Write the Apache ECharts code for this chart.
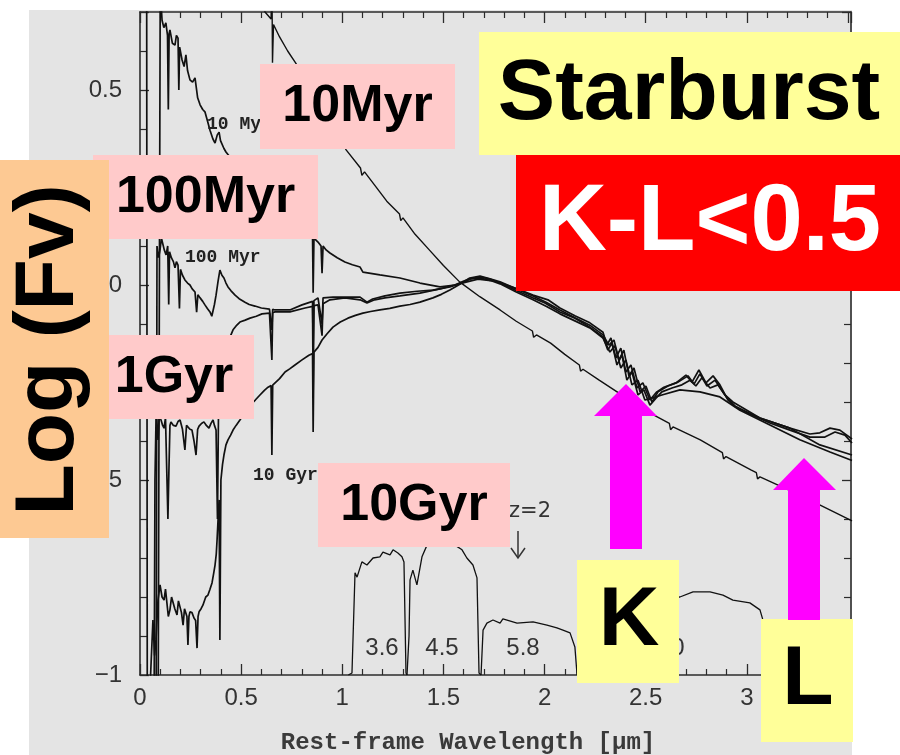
<!DOCTYPE html>
<html><head><meta charset="utf-8">
<script src="https://cdn.jsdelivr.net/npm/echarts@6/dist/echarts.min.js"></script>
<style>html,body{margin:0;padding:0;background:#fff}#c{width:900px;height:755px}</style>
</head><body><div id="c"></div>
<script>
// ---- data: [rest-frame wavelength (um), log Fv] ----
const curveSmooth = [[0.58,0.78],[0.618,0.70],[0.648,0.682],[0.652,0.80],[0.655,0.57],[0.66,0.668],[0.69,0.636],[0.73,0.60],[0.77,0.569],[0.83,0.515],[0.89,0.462],[0.96,0.40],[1.02,0.346],[1.09,0.30],[1.097,0.281],[1.11,0.29],[1.16,0.256],[1.22,0.215],[1.283,0.182],[1.289,0.165],[1.30,0.172],[1.36,0.13],[1.43,0.090],[1.50,0.05],[1.58,0.008],[1.68,-0.03],[1.78,-0.064],[1.86,-0.093],[1.940,-0.118],[1.946,-0.134],[1.96,-0.128],[2.03,-0.149],[2.10,-0.178],[2.172,-0.205],[2.178,-0.221],[2.19,-0.216],[2.27,-0.244],[2.40,-0.288],[2.52,-0.328],[2.617,-0.355],[2.623,-0.371],[2.635,-0.364],[2.77,-0.397],[2.879,-0.430],[2.885,-0.446],[2.897,-0.440],[3.02,-0.474],[3.047,-0.481],[3.053,-0.497],[3.065,-0.492],[3.26,-0.538],[3.52,-0.605]];

const curve10Myr = [[0.090,-1.05],[0.100,0.76],[0.109,0.679],[0.118,0.66],[0.128,0.672],[0.136,0.64],[0.140,0.45],[0.144,0.645],[0.148,0.654],[0.160,0.62],[0.173,0.615],[0.180,0.64],[0.188,0.633],[0.192,0.50],[0.196,0.61],[0.208,0.577],[0.218,0.56],[0.227,0.590],[0.235,0.55],[0.247,0.526],[0.260,0.52],[0.272,0.531],[0.285,0.48],[0.297,0.462],[0.310,0.45],[0.321,0.444],[0.334,0.42],[0.346,0.397],[0.360,0.375],[0.371,0.364],[0.382,0.385],[0.391,0.392],[0.398,0.37],[0.405,0.372],[0.415,0.35],[0.425,0.341],[0.48,0.305],[0.544,0.274],[0.62,0.235],[0.692,0.197],[0.75,0.168],[0.791,0.146],[0.83,0.13],[0.853,0.125],[0.856,-0.02],[0.86,0.12],[0.88,0.110],[0.895,0.10],[0.90,0.03],[0.905,0.10],[0.92,0.09],[0.939,0.082],[0.975,0.07],[1.013,0.059],[1.05,0.052],[1.088,0.046],[1.102,0.033],[1.14,0.03],[1.186,0.026],[1.285,0.018],[1.384,0.005],[1.483,-0.005],[1.557,0.000],[1.592,0.008],[1.630,0.016],[1.681,0.018],[1.730,0.012],[1.780,0.003],[1.860,-0.018],[1.943,-0.038],[2.010,-0.055],[2.076,-0.074],[2.150,-0.092],[2.224,-0.110],[2.289,-0.136],[2.323,-0.172],[2.348,-0.156],[2.377,-0.213],[2.402,-0.192],[2.432,-0.256],[2.462,-0.244],[2.496,-0.295],[2.531,-0.290],[2.580,-0.282],[2.669,-0.269],[2.768,-0.274],[2.867,-0.287],[2.966,-0.321],[3.114,-0.359],[3.262,-0.397],[3.411,-0.428],[3.52,-0.450]];

const curve100Myr = [[0.080,-1.05],[0.084,0.10],[0.092,0.07],[0.099,0.090],[0.106,0.12],[0.114,0.115],[0.120,0.09],[0.129,0.077],[0.137,0.10],[0.142,-0.05],[0.146,0.085],[0.155,0.07],[0.165,0.06],[0.173,0.044],[0.180,0.060],[0.188,0.051],[0.195,-0.06],[0.200,0.04],[0.210,0.025],[0.222,0.013],[0.235,0.005],[0.247,0.000],[0.258,-0.01],[0.272,-0.018],[0.280,-0.07],[0.286,-0.025],[0.297,-0.033],[0.310,-0.042],[0.321,-0.051],[0.333,-0.06],[0.346,-0.069],[0.355,-0.08],[0.361,-0.085],[0.368,-0.05],[0.376,-0.026],[0.386,0.01],[0.395,0.038],[0.405,0.025],[0.415,0.018],[0.425,0.005],[0.435,-0.005],[0.450,-0.015],[0.470,-0.026],[0.490,-0.035],[0.519,-0.044],[0.540,-0.050],[0.568,-0.054],[0.600,-0.059],[0.640,-0.062],[0.652,-0.115],[0.656,-0.062],[0.667,-0.064],[0.741,-0.064],[0.801,-0.051],[0.853,-0.042],[0.856,-0.16],[0.86,-0.04],[0.880,-0.033],[0.900,-0.10],[0.905,-0.033],[0.954,-0.031],[1.038,-0.031],[1.088,-0.031],[1.122,-0.044],[1.150,-0.036],[1.211,-0.028],[1.285,-0.021],[1.37,-0.016],[1.448,-0.013],[1.532,-0.005],[1.592,0.005],[1.630,0.018],[1.681,0.023],[1.730,0.016],[1.780,0.008],[1.860,-0.010],[1.943,-0.028],[2.010,-0.045],[2.076,-0.064],[2.150,-0.084],[2.224,-0.103],[2.289,-0.128],[2.318,-0.154],[2.343,-0.141],[2.368,-0.192],[2.392,-0.167],[2.417,-0.233],[2.442,-0.213],[2.472,-0.274],[2.501,-0.259],[2.531,-0.300],[2.561,-0.274],[2.610,-0.259],[2.660,-0.249],[2.709,-0.233],[2.739,-0.254],[2.768,-0.228],[2.803,-0.259],[2.843,-0.244],[2.892,-0.282],[2.931,-0.300],[3.065,-0.341],[3.213,-0.367],[3.361,-0.410],[3.52,-0.436]];

const curve1Gyr = [[0.070,-1.05],[0.074,-0.50],[0.080,-0.32],[0.089,-0.397],[0.096,-0.33],[0.104,-0.346],[0.112,-0.36],[0.119,-0.367],[0.126,-0.34],[0.133,-0.341],[0.138,-0.60],[0.143,-0.474],[0.148,-0.36],[0.153,-0.351],[0.165,-0.36],[0.178,-0.362],[0.188,-0.35],[0.198,-0.346],[0.210,-0.37],[0.222,-0.423],[0.230,-0.36],[0.237,-0.359],[0.247,-0.37],[0.257,-0.372],[0.267,-0.40],[0.277,-0.436],[0.285,-0.37],[0.292,-0.362],[0.304,-0.355],[0.316,-0.351],[0.328,-0.36],[0.341,-0.367],[0.351,-0.355],[0.361,-0.346],[0.368,-0.36],[0.376,-0.372],[0.383,-0.60],[0.388,-0.33],[0.395,-0.295],[0.405,-0.25],[0.415,-0.218],[0.425,-0.18],[0.435,-0.154],[0.448,-0.13],[0.460,-0.115],[0.475,-0.105],[0.494,-0.095],[0.520,-0.09],[0.544,-0.085],[0.575,-0.08],[0.603,-0.074],[0.640,-0.072],[0.652,-0.192],[0.656,-0.071],[0.667,-0.069],[0.741,-0.069],[0.816,-0.059],[0.853,-0.055],[0.856,-0.28],[0.86,-0.053],[0.880,-0.051],[0.900,-0.13],[0.905,-0.048],[0.939,-0.038],[1.013,-0.033],[1.088,-0.038],[1.122,-0.046],[1.160,-0.038],[1.211,-0.033],[1.285,-0.028],[1.384,-0.021],[1.483,-0.010],[1.592,0.005],[1.631,0.015],[1.681,0.021],[1.730,0.015],[1.780,0.005],[1.854,-0.013],[1.943,-0.033],[2.002,-0.046],[2.076,-0.069],[2.150,-0.085],[2.224,-0.108],[2.289,-0.133],[2.313,-0.167],[2.333,-0.149],[2.358,-0.205],[2.383,-0.179],[2.407,-0.244],[2.432,-0.223],[2.462,-0.282],[2.491,-0.269],[2.521,-0.308],[2.551,-0.290],[2.580,-0.274],[2.630,-0.264],[2.679,-0.256],[2.719,-0.244],[2.748,-0.259],[2.778,-0.238],[2.818,-0.264],[2.857,-0.256],[2.902,-0.290],[2.941,-0.310],[3.015,-0.331],[3.114,-0.354],[3.213,-0.372],[3.312,-0.390],[3.386,-0.390],[3.436,-0.377],[3.485,-0.385],[3.52,-0.405]];

const curve10Gyr = [[0.033,0.76],[0.036,-1.05],[0.049,-1.04],[0.064,-0.859],[0.072,-0.95],[0.079,-0.910],[0.089,-0.808],[0.099,-0.769],[0.109,-0.80],[0.119,-0.808],[0.126,-0.78],[0.133,-0.782],[0.140,-0.85],[0.148,-0.833],[0.156,-0.80],[0.163,-0.803],[0.172,-0.83],[0.183,-0.846],[0.190,-0.81],[0.198,-0.808],[0.205,-0.84],[0.213,-0.872],[0.220,-0.83],[0.227,-0.833],[0.232,-0.85],[0.237,-0.923],[0.242,-0.85],[0.247,-0.838],[0.257,-0.84],[0.267,-0.854],[0.275,-0.86],[0.282,-0.931],[0.287,-0.85],[0.292,-0.838],[0.302,-0.83],[0.311,-0.821],[0.325,-0.80],[0.336,-0.795],[0.346,-0.78],[0.356,-0.764],[0.364,-0.74],[0.371,-0.718],[0.377,-0.69],[0.381,-0.654],[0.386,-0.60],[0.391,-0.551],[0.395,-0.910],[0.400,-0.500],[0.408,-0.46],[0.415,-0.436],[0.425,-0.41],[0.435,-0.397],[0.448,-0.385],[0.460,-0.372],[0.475,-0.36],[0.494,-0.346],[0.520,-0.325],[0.544,-0.308],[0.570,-0.295],[0.593,-0.282],[0.615,-0.27],[0.633,-0.262],[0.648,-0.258],[0.652,-0.436],[0.656,-0.257],[0.662,-0.256],[0.690,-0.24],[0.717,-0.223],[0.740,-0.215],[0.766,-0.205],[0.801,-0.192],[0.835,-0.18],[0.853,-0.176],[0.856,-0.377],[0.860,-0.172],[0.880,-0.16],[0.900,-0.141],[0.925,-0.125],[0.954,-0.108],[0.990,-0.095],[1.028,-0.085],[1.065,-0.078],[1.102,-0.072],[1.140,-0.068],[1.186,-0.064],[1.235,-0.06],[1.285,-0.054],[1.335,-0.05],[1.384,-0.044],[1.448,-0.033],[1.490,-0.024],[1.532,-0.013],[1.592,0.005],[1.671,0.015],[1.755,0.010],[1.854,-0.008],[1.943,-0.026],[2.017,-0.038],[2.076,-0.059],[2.150,-0.079],[2.224,-0.097],[2.289,-0.121],[2.308,-0.154],[2.328,-0.136],[2.353,-0.187],[2.377,-0.162],[2.402,-0.223],[2.427,-0.205],[2.457,-0.264],[2.486,-0.251],[2.521,-0.295],[2.555,-0.274],[2.590,-0.262],[2.650,-0.251],[2.699,-0.231],[2.729,-0.249],[2.763,-0.218],[2.798,-0.251],[2.833,-0.233],[2.867,-0.256],[2.907,-0.295],[2.946,-0.313],[3.065,-0.341],[3.213,-0.367],[3.312,-0.382],[3.361,-0.379],[3.411,-0.367],[3.460,-0.372],[3.52,-0.395]];

// IRAC filter curves shifted to z=2 rest frame
const filter36 = [[1.030,-1.0],[1.048,-0.995],[1.063,-0.738],[1.073,-0.749],[1.097,-0.710],[1.122,-0.718],[1.152,-0.700],[1.186,-0.697],[1.201,-0.685],[1.236,-0.692],[1.251,-0.679],[1.275,-0.687],[1.295,-0.697],[1.305,-0.710],[1.315,-0.995],[1.320,-1.0]];
const filter45 = [[1.320,-1.0],[1.330,-0.90],[1.335,-0.756],[1.349,-0.731],[1.369,-0.769],[1.394,-0.697],[1.419,-0.667],[1.458,-0.649],[1.508,-0.654],[1.557,-0.667],[1.592,-0.679],[1.616,-0.700],[1.646,-0.718],[1.666,-0.751],[1.676,-0.995],[1.686,-1.0]];
const filter58 = [[1.686,-1.0],[1.696,-0.885],[1.715,-0.867],[1.745,-0.859],[1.780,-0.867],[1.794,-0.856],[1.864,-0.867],[1.943,-0.864],[2.012,-0.872],[2.061,-0.879],[2.091,-0.885],[2.126,-0.892],[2.150,-0.928],[2.160,-0.995],[2.165,-1.0]];
const filter80 = [[2.160,-1.0],[2.175,-0.910],[2.200,-0.846],[2.274,-0.821],[2.472,-0.808],[2.669,-0.800],[2.734,-0.787],[2.818,-0.787],[2.882,-0.795],[2.931,-0.808],[3.015,-0.815],[3.065,-0.833],[3.094,-0.885],[3.114,-0.995],[3.139,-1.0]];

const xTickLabels = [0, 0.5, 1, 1.5, 2, 2.5, 3];
const yTickLabels = [-1, -0.5, 0, 0.5];

// ---- chart ----
const chart = echarts.init(document.getElementById('c'), null, {renderer: 'canvas'});
const axisColor = '#2b2b2b';
const isTick = (list, v) => list.some(t => Math.abs(t - v) < 1e-6);
const fmt = v => String(v).replace('-', '\u2212');

function xAx(pos, showLabel) {
  return {
    type: 'value', position: pos, min: 0, max: 3.515, interval: 0.5,
    axisLine: {show: true, onZero: false, lineStyle: {color: axisColor, width: 1.6}},
    axisTick: {show: true, inside: true, length: 11, lineStyle: {color: axisColor, width: 1.3}},
    minorTick: {show: true, splitNumber: 5, length: 6, lineStyle: {color: axisColor, width: 1.2}},
    splitLine: {show: false},
    axisLabel: {show: showLabel, margin: 11, color: '#333', fontFamily: 'Liberation Sans', fontSize: 24,
      formatter: v => isTick(xTickLabels, v) ? fmt(v) : ''}
  };
}
function yAx(pos, showLabel) {
  return {
    type: 'value', position: pos, min: -1, max: 0.7, interval: 0.5,
    axisLine: {show: true, onZero: false, lineStyle: {color: axisColor, width: 1.6}},
    axisTick: {show: true, inside: true, length: 9, lineStyle: {color: axisColor, width: 1.3}},
    minorTick: {show: true, splitNumber: 5, length: 7, lineStyle: {color: axisColor, width: 1.2}},
    splitLine: {show: false},
    axisLabel: {show: showLabel, margin: 18, color: '#333', fontFamily: 'Liberation Sans', fontSize: 24,
      formatter: v => isTick(yTickLabels, v) ? fmt(v) : ''}
  };
}
function spec(data, w) {
  return {type: 'line', data: data, showSymbol: false, symbol: 'none', clip: true, animation: false,
    lineStyle: {color: '#111', width: w}, z: 3};
}

function box(x, y, w, h, fill, text, font, color, tx, ty, extra) {
  const els = [{type: 'rect', z: 100, shape: {x: x, y: y, width: w, height: h}, style: {fill: fill}}];
  if (text) {
    els.push(Object.assign({type: 'text', z: 101, x: tx, y: ty,
      style: {text: text, font: font, fill: color, textAlign: 'center', textVerticalAlign: 'middle', verticalAlign: 'middle'}}, extra || {}));
  }
  return els;
}
const small = (t, x, y, align) => ({type: 'text', z: 50, x: x, y: y,
  style: {text: t, font: 'bold 18px "Liberation Mono", monospace', fill: '#222', textAlign: align || 'left', textVerticalAlign: 'middle', verticalAlign: 'middle'}});
const flab = (t, x, y) => ({type: 'text', z: 50, x: x, y: y,
  style: {text: t, font: '24px "Liberation Sans", sans-serif', fill: '#333', textAlign: 'center', textVerticalAlign: 'middle', verticalAlign: 'middle'}});
const BOLD = 'bold {s}px "Liberation Sans", Arial, sans-serif';
const bf = s => BOLD.replace('{s}', s);

const graphics = [].concat(
  [{type: 'rect', z: -100, shape: {x: 29, y: 10, width: 823, height: 745}, style: {fill: '#e4e4e4'}}],
  [small('10 Myr', 207, 124), small('100 Myr', 185, 257), small('10 Gyr', 253, 475),
   {type: 'text', z: 50, x: 551, y: 512, style: {text: 'z=2', font: '21px "DejaVu Sans", sans-serif', fill: '#333', textAlign: 'right', textVerticalAlign: 'middle', verticalAlign: 'middle'}},
   {type: 'polyline', z: 50, shape: {points: [[518, 531], [518, 558]]}, style: {stroke: '#333', lineWidth: 1.5}},
   {type: 'polyline', z: 50, shape: {points: [[511, 548], [518, 558], [525, 548]]}, style: {stroke: '#333', lineWidth: 1.5, fill: null}},
   {type: 'text', z: 50, x: 468, y: 743, style: {text: 'Rest-frame Wavelength [\u03bcm]', font: 'bold 24px "Liberation Mono", monospace', fill: '#3a3a3a', textAlign: 'center', textVerticalAlign: 'middle', verticalAlign: 'middle'}},
   flab('3.6', 382, 648), flab('4.5', 442, 648), flab('5.8', 523, 648), flab('8.0', 668, 648)],
  box(260, 64, 195, 85, '#ffcaca', '10Myr', bf(52), '#000', 357.5, 107),
  box(93, 155, 225, 84, '#ffcaca', '100Myr', bf(52), '#000', 205.5, 198),
  box(93, 335, 161, 84, '#ffcaca', '1Gyr', bf(52), '#000', 174, 378),
  box(318, 463, 192, 84, '#ffcaca', '10Gyr', bf(52), '#000', 414, 506),
  box(0, 160, 109, 378, '#fdc993', 'Log (Fv)', bf(84), '#000', 50, 350,
      {rotation: Math.PI / 2, style: {text: 'Log (Fv)', font: bf(84), fill: '#000', textAlign: 'center', textVerticalAlign: 'middle', verticalAlign: 'middle', shadowBlur: 6, shadowColor: 'rgba(0,0,0,0.45)', shadowOffsetX: 0, shadowOffsetY: -3}}),
  box(479, 32, 421, 123, '#ffff99', 'Starburst', bf(86), '#000', 689, 95),
  box(516, 155, 384, 136, '#ff0000', 'K-L<0.5', bf(94), '#fff', 710, 224),
  box(577, 560, 102, 123, '#ffff99', 'K', bf(84), '#000', 629, 622),
  box(761, 619, 92, 123, '#ffff99', 'L', bf(84), '#000', 808, 681),
  [{type: 'rect', z: 102, shape: {x: 610, y: 415, width: 32, height: 134}, style: {fill: '#ff00ff'}},
   {type: 'polygon', z: 102, shape: {points: [[594, 416], [657, 416], [626, 384]]}, style: {fill: '#ff00ff'}},
   {type: 'rect', z: 102, shape: {x: 788, y: 489, width: 32, height: 131}, style: {fill: '#ff00ff'}},
   {type: 'polygon', z: 102, shape: {points: [[773, 490], [836, 490], [804, 458]]}, style: {fill: '#ff00ff'}}]
);

chart.setOption({
  backgroundColor: '#ffffff',
  animation: false,
  grid: {left: 140, right: 49, top: 12, bottom: 80, containLabel: false},
  xAxis: [xAx('bottom', true), xAx('top', false)],
  yAxis: [yAx('left', true), yAx('right', false)],
  series: [
    spec(curveSmooth, 1.4), spec(curve10Myr, 1.7), spec(curve100Myr, 1.7), spec(curve1Gyr, 1.7), spec(curve10Gyr, 1.7),
    spec(filter36, 1.3), spec(filter45, 1.3), spec(filter58, 1.3), spec(filter80, 1.3)
  ],
  graphic: {elements: graphics}
});
</script>
</body></html>
